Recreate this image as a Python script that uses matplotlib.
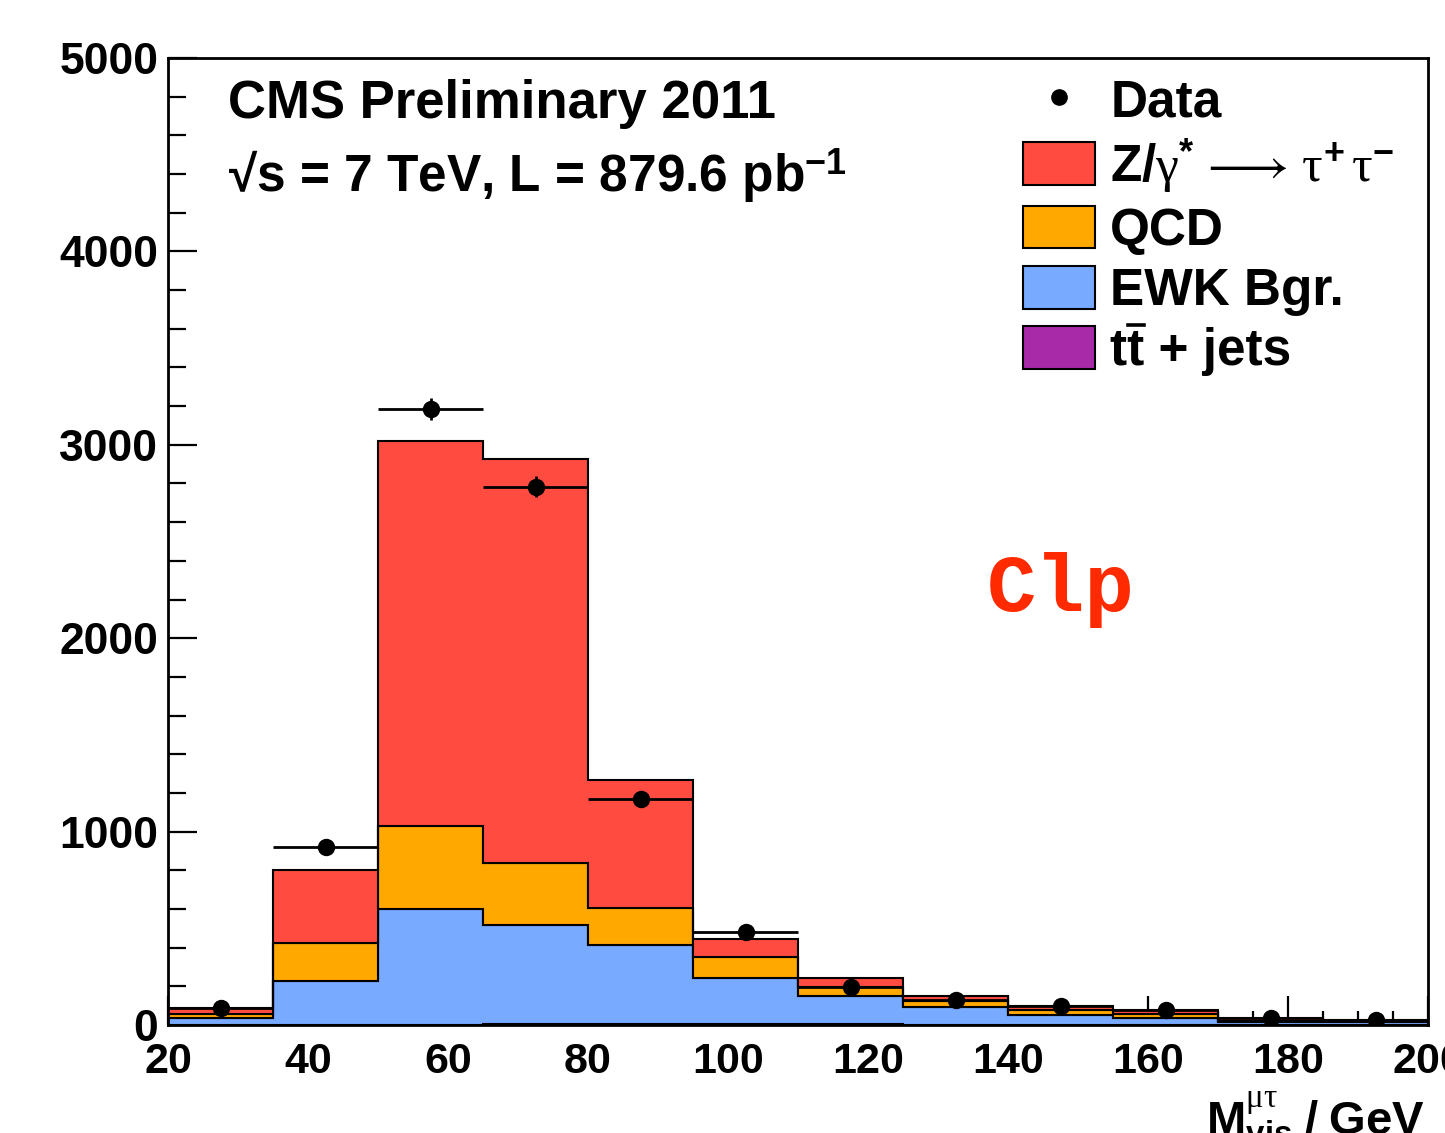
import numpy as np
import matplotlib
matplotlib.use("Agg")
import matplotlib.pyplot as plt
from matplotlib.patches import Patch
from matplotlib.lines import Line2D
from matplotlib.transforms import IdentityTransform

# visible mass bins (GeV)
bin_edges = [20, 35, 50, 65, 80, 95, 110, 125, 140, 155, 170, 185, 200]

# stacked MC components (events per bin)
ttbar = [0, 1, 2, 3, 3, 3, 3, 2, 2, 2, 1, 1]
ewk = [36, 225, 596, 513, 409, 238, 145, 93, 52, 36, 16, 12]
qcd = [21, 197, 430, 321, 192, 109, 47, 31, 26, 21, 6, 6]
ztautau = [31, 381, 1991, 2090, 663, 93, 46, 26, 20, 16, 14, 8]

data = [88, 922, 3183, 2784, 1171, 482, 197, 130, 98, 78, 36, 26]

plt.rcParams["font.family"] = ["Liberation Sans", "DejaVu Sans"]
plt.rcParams["mathtext.fontset"] = "custom"
plt.rcParams["mathtext.rm"] = "Liberation Serif"
plt.rcParams["mathtext.it"] = "Liberation Serif:italic"
plt.rcParams["mathtext.bf"] = "Liberation Sans:bold"
plt.rcParams["mathtext.sf"] = "Liberation Sans"
plt.rcParams["mathtext.fallback"] = "stix"

RED = "#ff4b40"
ORANGE = "#ffa800"
BLUE = "#78aaff"
PURPLE = "#a82aa8"

fig = plt.figure(figsize=(14.45, 11.33), dpi=100)
ax = fig.add_axes([168 / 1445, 108 / 1133, 1260 / 1445, 967 / 1133])

edges = np.array(bin_edges, dtype=float)
centers = 0.5 * (edges[:-1] + edges[1:])
halfw = 0.5 * np.diff(edges)

# build the stack from the bottom up
lower = np.zeros(len(centers))
for vals, col in [(ttbar, PURPLE), (ewk, BLUE), (qcd, ORANGE), (ztautau, RED)]:
    upper = lower + np.array(vals, dtype=float)
    ax.stairs(upper, edges, baseline=lower, fill=True, facecolor=col,
              edgecolor="black", linewidth=1.5, zorder=2)
    lower = upper

d = np.array(data, dtype=float)
ax.errorbar(centers, d, xerr=halfw, yerr=np.sqrt(d), fmt="o", color="black",
            markersize=11.5, elinewidth=2.0, capsize=0, zorder=4)

ax.set_xlim(20, 200)
ax.set_ylim(0, 5000)
ax.set_xticks(np.arange(20, 201, 20))
ax.set_xticks(np.arange(20, 201, 5), minor=True)
ax.set_yticks(np.arange(0, 5001, 1000))
ax.set_yticks(np.arange(0, 5001, 200), minor=True)
ax.tick_params(which="both", direction="in", width=1.6, top=False, right=False)
ax.tick_params(which="major", length=21)
ax.tick_params(which="minor", length=10)
ax.tick_params(axis="y", which="minor", length=13)
ax.tick_params(axis="x", pad=12, labelsize=31)
ax.tick_params(axis="y", pad=7, labelsize=32)
for lab in ax.get_xticklabels() + ax.get_yticklabels():
    lab.set_fontweight("bold")
for sp in ax.spines.values():
    sp.set_linewidth(2.0)

ax.text(0.0476, 0.938, "CMS Preliminary 2011", transform=ax.transAxes,
        fontsize=38, fontweight="bold", va="baseline", ha="left")
ax.text(0.0476, 0.862, "\u221as = 7 TeV, L = 879.6 pb$^{\\mathbf{-1}}$",
        transform=ax.transAxes, fontsize=37, fontweight="bold",
        va="baseline", ha="left")

ax.text(0.650, 0.428, "Clp", transform=ax.transAxes, fontsize=59,
        family="Liberation Mono", fontweight="bold", color="#ff2a00",
        va="baseline", ha="left")

ax.text(0.9976, -0.114,
        r"$\mathbf{M}^{\mathrm{\mu\tau}}_{\mathbf{vis}}\ \mathbf{/\ GeV}$",
        transform=ax.transAxes, fontsize=34,
        va="baseline", ha="right", clip_on=False)

handles = [
    Line2D([], [], marker="o", color="black", linestyle="none", markersize=11),
    Patch(facecolor=RED, edgecolor="black", linewidth=1.5),
    Patch(facecolor=ORANGE, edgecolor="black", linewidth=1.5),
    Patch(facecolor=BLUE, edgecolor="black", linewidth=1.5),
    Patch(facecolor=PURPLE, edgecolor="black", linewidth=1.5),
]
labels = [
    "Data",
    r"$\mathbf{Z/}\mathrm{\gamma}^{\mathbf{*}}\,\longrightarrow\,\mathrm{\tau}^{\mathbf{+}}\,\mathrm{\tau}^{\mathbf{-}}$",
    "QCD",
    "EWK Bgr.",
    "tt + jets",
]
leg = ax.legend(handles, labels, loc="upper left",
                bbox_to_anchor=((1023 - 168) / 1260, (1025 - 79) / 965),
                frameon=False, fontsize=37, handlelength=1.4, handleheight=0.9,
                handletextpad=0.3, labelspacing=0.2, borderpad=0,
                borderaxespad=0)
for i, t in enumerate(leg.get_texts()):
    if i != 1:
        t.set_fontweight("bold")

# overline on the second "t" of the ttbar label
fig.canvas.draw()
renderer = fig.canvas.get_renderer()
tt_text = leg.get_texts()[4]
bb = tt_text.get_window_extent(renderer)
prop = tt_text.get_fontproperties()
w1 = renderer.get_text_width_height_descent("t", prop, ismath=False)[0]
w2 = renderer.get_text_width_height_descent("tt", prop, ismath=False)[0]
ybar = bb.y1 + 2
fig.add_artist(Line2D([bb.x0 + w1 + 1, bb.x0 + w2 - 1], [ybar, ybar],
                      color="black", linewidth=2.6, transform=IdentityTransform()))

fig.savefig("out.png", dpi=100, facecolor="white")
